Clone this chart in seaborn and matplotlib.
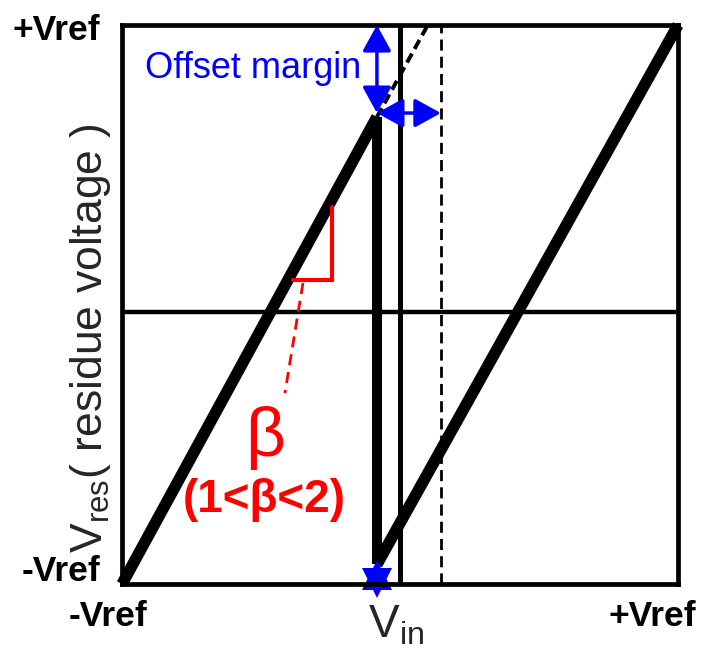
import matplotlib
matplotlib.use("Agg")
import matplotlib.pyplot as plt
import seaborn as sns
import pandas as pd

sns.set_style("white")
plt.rcParams["font.family"] = ["Liberation Sans", "DejaVu Sans"]
plt.rcParams["mathtext.fontset"] = "custom"
plt.rcParams["mathtext.rm"] = "Liberation Sans"
plt.rcParams["mathtext.it"] = "Liberation Sans:italic"

# Residue transfer curve of a 1-bit stage with gain beta (normalised to Vref)
ramp1_vin = [-1.0, -0.083]
ramp1_vres = [-1.0, 0.671]
drop_vin = [-0.083, -0.083]
drop_vres = [0.671, -0.93]
ramp2_vin = [-0.083, 1.0]
ramp2_vres = [-0.93, 1.0]
ext_vin = [-0.083, 0.10]
ext_vres = [0.671, 1.0]

# Reference markers
zero_vres = -0.027
threshold_vin = 0.0
margin_vin = 0.147

# Slope triangle and its leader
tri_vin = [-0.385, -0.245, -0.245]
tri_vres = [0.088, 0.088, 0.349]
leader_vin = [-0.349, -0.414]
leader_vres = [0.077, -0.317]


def seg(ax, xs, ys, **kw):
    df = pd.DataFrame({"vin": xs, "vres": ys})
    sns.lineplot(data=df, x="vin", y="vres", ax=ax, sort=False, estimator=None, **kw)
    return ax.lines[-1]


fig = plt.figure(figsize=(7.01, 6.59), dpi=100)
ax = fig.add_axes([122 / 701, 1 - 584 / 659, 556 / 701, 559 / 659])

ax.axhline(zero_vres, color="black", lw=3.2)
ax.axvline(threshold_vin, color="black", lw=3.6)
ax.axvline(margin_vin, color="black", lw=2.0, dashes=(4, 2.2))

thick = dict(color="black", solid_capstyle="butt", solid_joinstyle="miter", clip_on=False)
seg(ax, ramp1_vin, ramp1_vres, lw=8.3, **thick)
seg(ax, drop_vin, drop_vres, lw=7.2, **thick)
seg(ax, ramp2_vin, ramp2_vres, lw=8.3, **thick)

seg(ax, ext_vin, ext_vres, color="black", lw=2.8).set_dashes((2.6, 1.4))

seg(ax, tri_vin, tri_vres, color="red", lw=3.0, solid_joinstyle="miter")
seg(ax, leader_vin, leader_vres, color="red", lw=2.0).set_dashes((4, 2.5))

ax.set_xlim(-1, 1)
ax.set_ylim(-1, 1)
ax.set_xticks([])
ax.set_yticks([])
ax.set_xlabel("")
ax.set_ylabel("")
for sp in ax.spines.values():
    sp.set_linewidth(3.4)
    sp.set_color("black")

blue = "#0000ff"
arrow = dict(arrowstyle="<|-|>,head_length=0.4,head_width=0.22", color=blue, lw=2.5,
             shrinkA=0, shrinkB=0, mutation_scale=40)
ax.annotate("", xy=(-0.083, 1.0), xytext=(-0.083, 0.685), arrowprops=arrow, annotation_clip=False)
ax.annotate("", xy=(-0.083, 0.685), xytext=(margin_vin, 0.685), arrowprops=arrow, annotation_clip=False)
# collapsed double arrow at the bottom of the drop
ax.plot([-0.083], [-0.968], marker="^", ms=22, color=blue, mew=0, clip_on=False)
ax.plot([-0.083], [-0.996], marker="v", ms=22, color=blue, mew=0, clip_on=False)

ax.text(-0.917, 0.846, "Offset margin", color=blue, fontsize=26, ha="left", va="center")

ax.text(-0.486, -0.478, "β", color="red", fontsize=50, ha="center", va="center")
ax.text(-0.489, -0.699, "(1<β<2)", color="red", fontsize=33, fontweight="bold",
        ha="center", va="center")

bold = dict(fontsize=25.5, fontweight="bold", color="black", clip_on=False)
ax.text(-1.079, 0.982, "+Vref", ha="right", va="center", **bold)
ax.text(-1.079, -0.957, "-Vref", ha="right", va="center", **bold)
ax.text(-1.05, -1.118, "-Vref", ha="center", va="center", **bold)
ax.text(0.906, -1.118, "+Vref", ha="center", va="center", **bold)

ax.text(-0.014, -1.15, r"V$_{\mathrm{in}}$", fontsize=33, ha="center", va="center", clip_on=False)
ax.text(-1.115, -0.12, r"V$_{\mathrm{res}}$( residue voltage )", fontsize=32,
        rotation=90, ha="center", va="center", clip_on=False)

fig.savefig("out.png", dpi=100)
